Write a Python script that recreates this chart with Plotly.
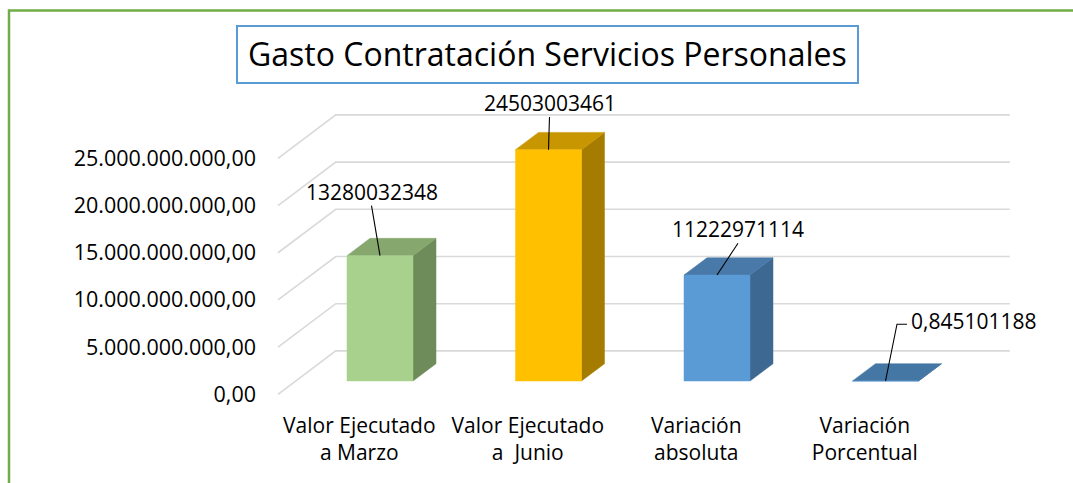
import plotly.graph_objects as go

# ---------------- data ----------------
categories = ["Valor Ejecutado<br>a Marzo", "Valor Ejecutado<br>a  Junio",
              "Variación<br>absoluta", "Variación<br>Porcentual"]
values = [13280032348, 24503003461, 11222971114, 0.845101188]
y_ticks = [0, 5e9, 10e9, 15e9, 20e9, 25e9]
title_text = "Gasto Contratación Servicios Personales"

# ---------------- style ----------------
front_colors = ["#A9D18E", "#FFC000", "#5B9BD5", "#5B9BD5"]
top_colors = ["#86A86E", "#C89600", "#4879A8", "#4577A5"]
side_colors = ["#6E8B5A", "#A67C00", "#3C6891", "#3C6891"]
FONT = "Open Sans"

W, H = 1073, 483
PX_CAT = 168.5          # px per category
PX_VAL = 9.44e-9        # px per unit value
X0_PX, Y0_PX = 380, 381 # pixel of category 0 / value 0 at bar-front depth
DX_CAT = 23 / PX_CAT    # depth shift (one bar depth) in category units
DY_VAL = 17.3 / PX_VAL  # depth shift in value units
BAR_W = 66 / PX_CAT
BACK_T = 40 / 23
FRONT_T = -17.75 / 23
LABEL_T = -0.9

# data-label offsets (px): dx, dy above bar top, anchor
label_offsets = [(-8.5, 64, "center"), (1, 46.7, "center"), (21, 45.8, "center"), (23.5, 60.3, "left")]


def proj(i, v, t):
    return i + t * DX_CAT, v + t * DY_VAL


def fmt_tick(v):
    s = f"{v:,.2f}"
    return s.replace(",", "X").replace(".", ",").replace("X", ".")


def fmt_val(v):
    if float(v).is_integer():
        return str(int(v))
    return f"{v:.9f}".replace(".", ",")


fig = go.Figure()

n = len(categories)
# gridlines (side wall + back wall)
gx, gy = [], []
for v in y_ticks:
    for (i, t) in [(-0.5, FRONT_T), (-0.5, BACK_T), (n - 0.5, BACK_T)]:
        x, y = proj(i, v, t)
        gx.append(x)
        gy.append(y)
    gx.append(None)
    gy.append(None)
fig.add_trace(go.Scatter(x=gx, y=gy, mode="lines", line=dict(color="#D9D9D9", width=1.6),
                         hoverinfo="skip", showlegend=False))

hw = BAR_W / 2
for i, v in enumerate(values):
    polys = [
        ([(i + hw, 0), proj(i + hw, 0, 1), proj(i + hw, v, 1), (i + hw, v)], side_colors[i]),
        ([(i - hw, v), (i + hw, v), proj(i + hw, v, 1), proj(i - hw, v, 1)], top_colors[i]),
        ([(i - hw, 0), (i + hw, 0), (i + hw, v), (i - hw, v)], front_colors[i]),
    ]
    for pts, col in polys:
        xs = [p[0] for p in pts] + [pts[0][0]]
        ys = [p[1] for p in pts] + [pts[0][1]]
        fig.add_trace(go.Scatter(x=xs, y=ys, mode="lines", fill="toself", fillcolor=col,
                                 line=dict(color=col, width=0.5), hoverinfo="skip",
                                 showlegend=False))

# data labels + leader lines
annotations = []
lx, ly = [], []
for i, v in enumerate(values):
    dx, dy, anchor = label_offsets[i]
    ax = i + dx / PX_CAT
    ay = v + dy / PX_VAL
    annotations.append(dict(x=ax, y=ay, xref="x", yref="y", text=fmt_val(v), showarrow=False,
                            xanchor=anchor, yanchor="middle",
                            font=dict(family=FONT, size=21, color="#000000")))
    if anchor == "center":
        pts = [(ax, ay - 14 / PX_VAL), (i, v)]
    else:
        pts = [(ax - 2 / PX_CAT, ay - 3.5 / PX_VAL), (ax - 12 / PX_CAT, ay - 3.5 / PX_VAL), (i, v)]
    for p in pts:
        lx.append(p[0])
        ly.append(p[1])
    lx.append(None)
    ly.append(None)
fig.add_trace(go.Scatter(x=lx, y=ly, mode="lines", line=dict(color="#000000", width=1.1),
                         hoverinfo="skip", showlegend=False))

# title
annotations.append(dict(x=547.5 / W, y=1 - 54 / H, xref="paper", yref="paper", text=title_text,
                        showarrow=False, xanchor="center", yanchor="middle",
                        font=dict(family=FONT, size=32, color="#000000")))

shapes = [
    dict(type="rect", xref="paper", yref="paper", x0=237 / W, x1=858 / W, y0=1 - 26 / H, y1=1 - 83 / H,
         line=dict(color="#5B9BD5", width=2), fillcolor="white", layer="below"),
    dict(type="rect", xref="paper", yref="paper", x0=9 / W, x1=1.05, y0=1 - 10.5 / H, y1=-0.05,
         line=dict(color="#70AD47", width=2.5), fillcolor="rgba(0,0,0,0)", layer="above"),
]

x_left_px = 270
y_bottom_px = 400
fig.update_layout(
    width=W, height=H, autosize=False,
    margin=dict(l=0, r=0, t=0, b=0, pad=0),
    paper_bgcolor="white", plot_bgcolor="white",
    showlegend=False,
    annotations=annotations,
    shapes=shapes,
    xaxis=dict(domain=[x_left_px / W, 1],
               range=[(x_left_px - X0_PX) / PX_CAT, (W - X0_PX) / PX_CAT],
               tickvals=[i + LABEL_T * DX_CAT for i in range(n)],
               ticktext=[c.replace("  ", "\u00a0 ") for c in categories],
               tickfont=dict(family=FONT, size=21, color="#000000"),
               showgrid=False, zeroline=False, showline=False, ticks="",
               ticklabelstandoff=11, fixedrange=True, automargin=False),
    yaxis=dict(domain=[1 - y_bottom_px / H, 1],
               range=[(Y0_PX - y_bottom_px) / PX_VAL, Y0_PX / PX_VAL],
               tickvals=[v + FRONT_T * DY_VAL for v in y_ticks],
               ticktext=[fmt_tick(v) for v in y_ticks],
               tickfont=dict(family=FONT, size=21.5, color="#000000"),
               showgrid=False, zeroline=False, showline=False, ticks="",
               ticklabelstandoff=13, fixedrange=True, automargin=False),
)

fig.write_html("out.html", config={"displayModeBar": False},
               post_script="document.body.style.margin='0';document.body.style.overflow='hidden';")
